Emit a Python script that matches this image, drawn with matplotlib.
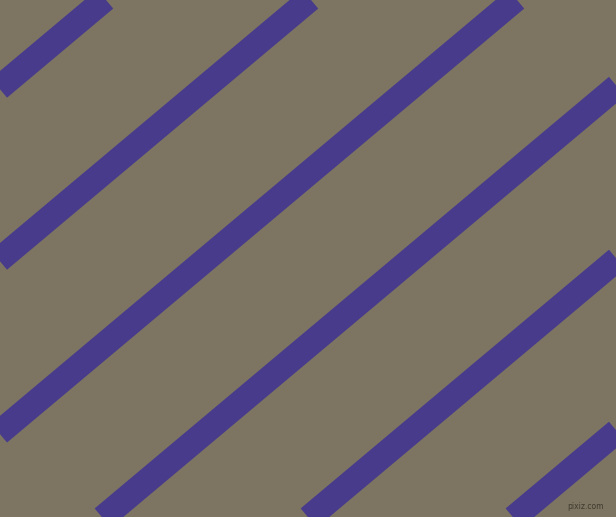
import numpy as np
import matplotlib.pyplot as plt

# image size in pixels
W = 616
H = 517

# stripe positions: x where each stripe centre crosses the top edge
stripe_x0 = [104, 309, 515, 720, 926, 1131]
stripe_angle = 40.0   # degrees from horizontal
stripe_width_px = 25

bg_color = '#7d7562'
stripe_color = '#483b8b'

fig = plt.figure(figsize=(W / 100, H / 100), dpi=100)
ax = fig.add_axes([0, 0, 1, 1])
ax.set_facecolor(bg_color)
fig.patch.set_facecolor(bg_color)

# run every stripe from above the top edge to below the bottom edge
slope = np.tan(np.radians(stripe_angle))
y = np.array([-60, H + 60])
for x0 in stripe_x0:
    x = x0 - y / slope
    ax.plot(x, y, color=stripe_color, linewidth=stripe_width_px * 72 / 100,
            solid_capstyle='butt')

# watermark
ax.text(W - 12, H - 6, 'pixiz.com', ha='right', va='bottom', fontsize=5.5,
        color='#3e3a2e')

ax.set_xlim(0, W)
ax.set_ylim(H, 0)
ax.axis('off')

plt.savefig('out.png', dpi=100, facecolor=bg_color)
